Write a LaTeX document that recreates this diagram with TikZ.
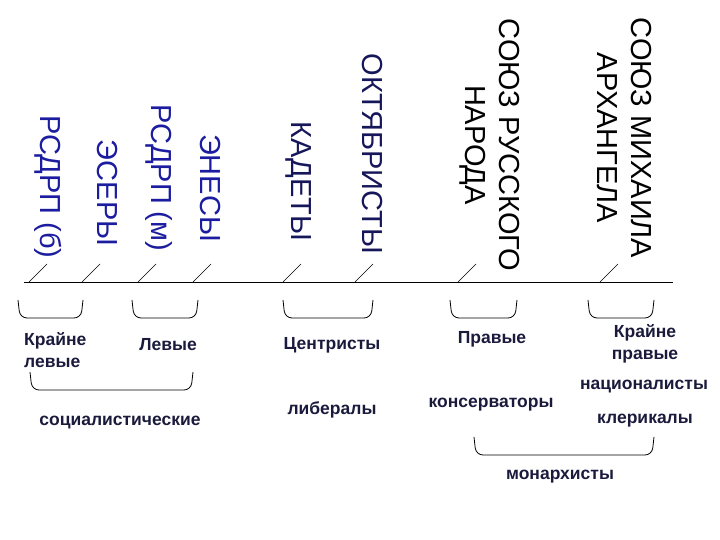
\documentclass[tikz,border=0pt]{standalone}
\usepackage{fontspec}
\setmainfont{Liberation Sans}
\usetikzlibrary{positioning}
\definecolor{partyblue}{RGB}{28,28,160}
\definecolor{partynavy}{RGB}{22,22,90}
\definecolor{groupink}{RGB}{26,26,60}

\begin{document}
\begin{tikzpicture}[x=1pt, y=-1pt,
		party/.style={rotate=-90, inner sep=0pt, align=center, font=\fontsize{29}{34}\selectfont},
		group/.style={inner sep=0pt, align=center, text=groupink, font=\fontsize{17.5}{22}\selectfont\bfseries},
		bracket/.style={draw, line width=0.8pt, rounded corners=7pt}]
		\useasboundingbox (0,0) rectangle (720,540);
		
		% parties
		\node (RSDRP b) at (48,187) [party, text=partyblue]{РСДРП (б)};
		\node (Esery) at (107,193) [party, text=partyblue]{ЭСЕРЫ};
		\node (RSDRP m) at (159,178) [party, text=partyblue]{РСДРП (м)};
		\node (Enesy) at (210,188) [party, text=partyblue]{ЭНЕСЫ};
		\node (Kadety) at (299,181) [party, text=partynavy]{КАДЕТЫ};
		\node (Oktyabristy) at (372,154) [party, text=partynavy]{ОКТЯБРИСТЫ};
		\node (SRN) at (490,145) [party]{СОЮЗ РУССКОГО\\НАРОДА};
		\node (SMA) at (625,138) [party]{СОЮЗ МИХАИЛА\\АРХАНГЕЛА};
		
		% axis and ticks
		\coordinate (axis start) at (24,282);
		\coordinate (axis end) at (673,282);
		\draw[line width=0.8pt] (axis start) -- (axis end);
		\foreach \x in {29,82,138,193,283,355,458,600}
		\draw[line width=0.6pt] (\x,282) -- (\x+18,264);
		
		% brackets
		\foreach \xa/\xb/\yt in {18/83/300, 132/198/300, 283/373/300, 450/517/300,
			588/654/300, 30/193/372, 474/654/437}
		\draw[bracket] (\xa,\yt) -- (\xa+2,\yt+18) -- (\xb-2,\yt+18) -- (\xb,\yt);
		
		% groups
		\node (Far left) at (24,350) [group, anchor=west, align=left]{Крайне\\левые};
		\node (Left) at (168,345) [group]{Левые};
		\node (Centrists) at (332,345) [group]{Центристы};
		\node (Right) at (492,339) [group]{Правые};
		\node (Far right) at (645,344) [group]{Крайне\\правые};
		\node (Socialist) at (120,423) [group]{социалистические};
		\node (Liberals) at (332,410) [group]{либералы};
		\node (Conservatives) at (491,405) [group]{консерваторы};
		\node (Nationalists) at (644,387) [group]{националисты};
		\node (Clericals) at (645,421) [group]{клерикалы};
		\node (Monarchists) at (560,477) [group]{монархисты};
	\end{tikzpicture}
\end{document}
